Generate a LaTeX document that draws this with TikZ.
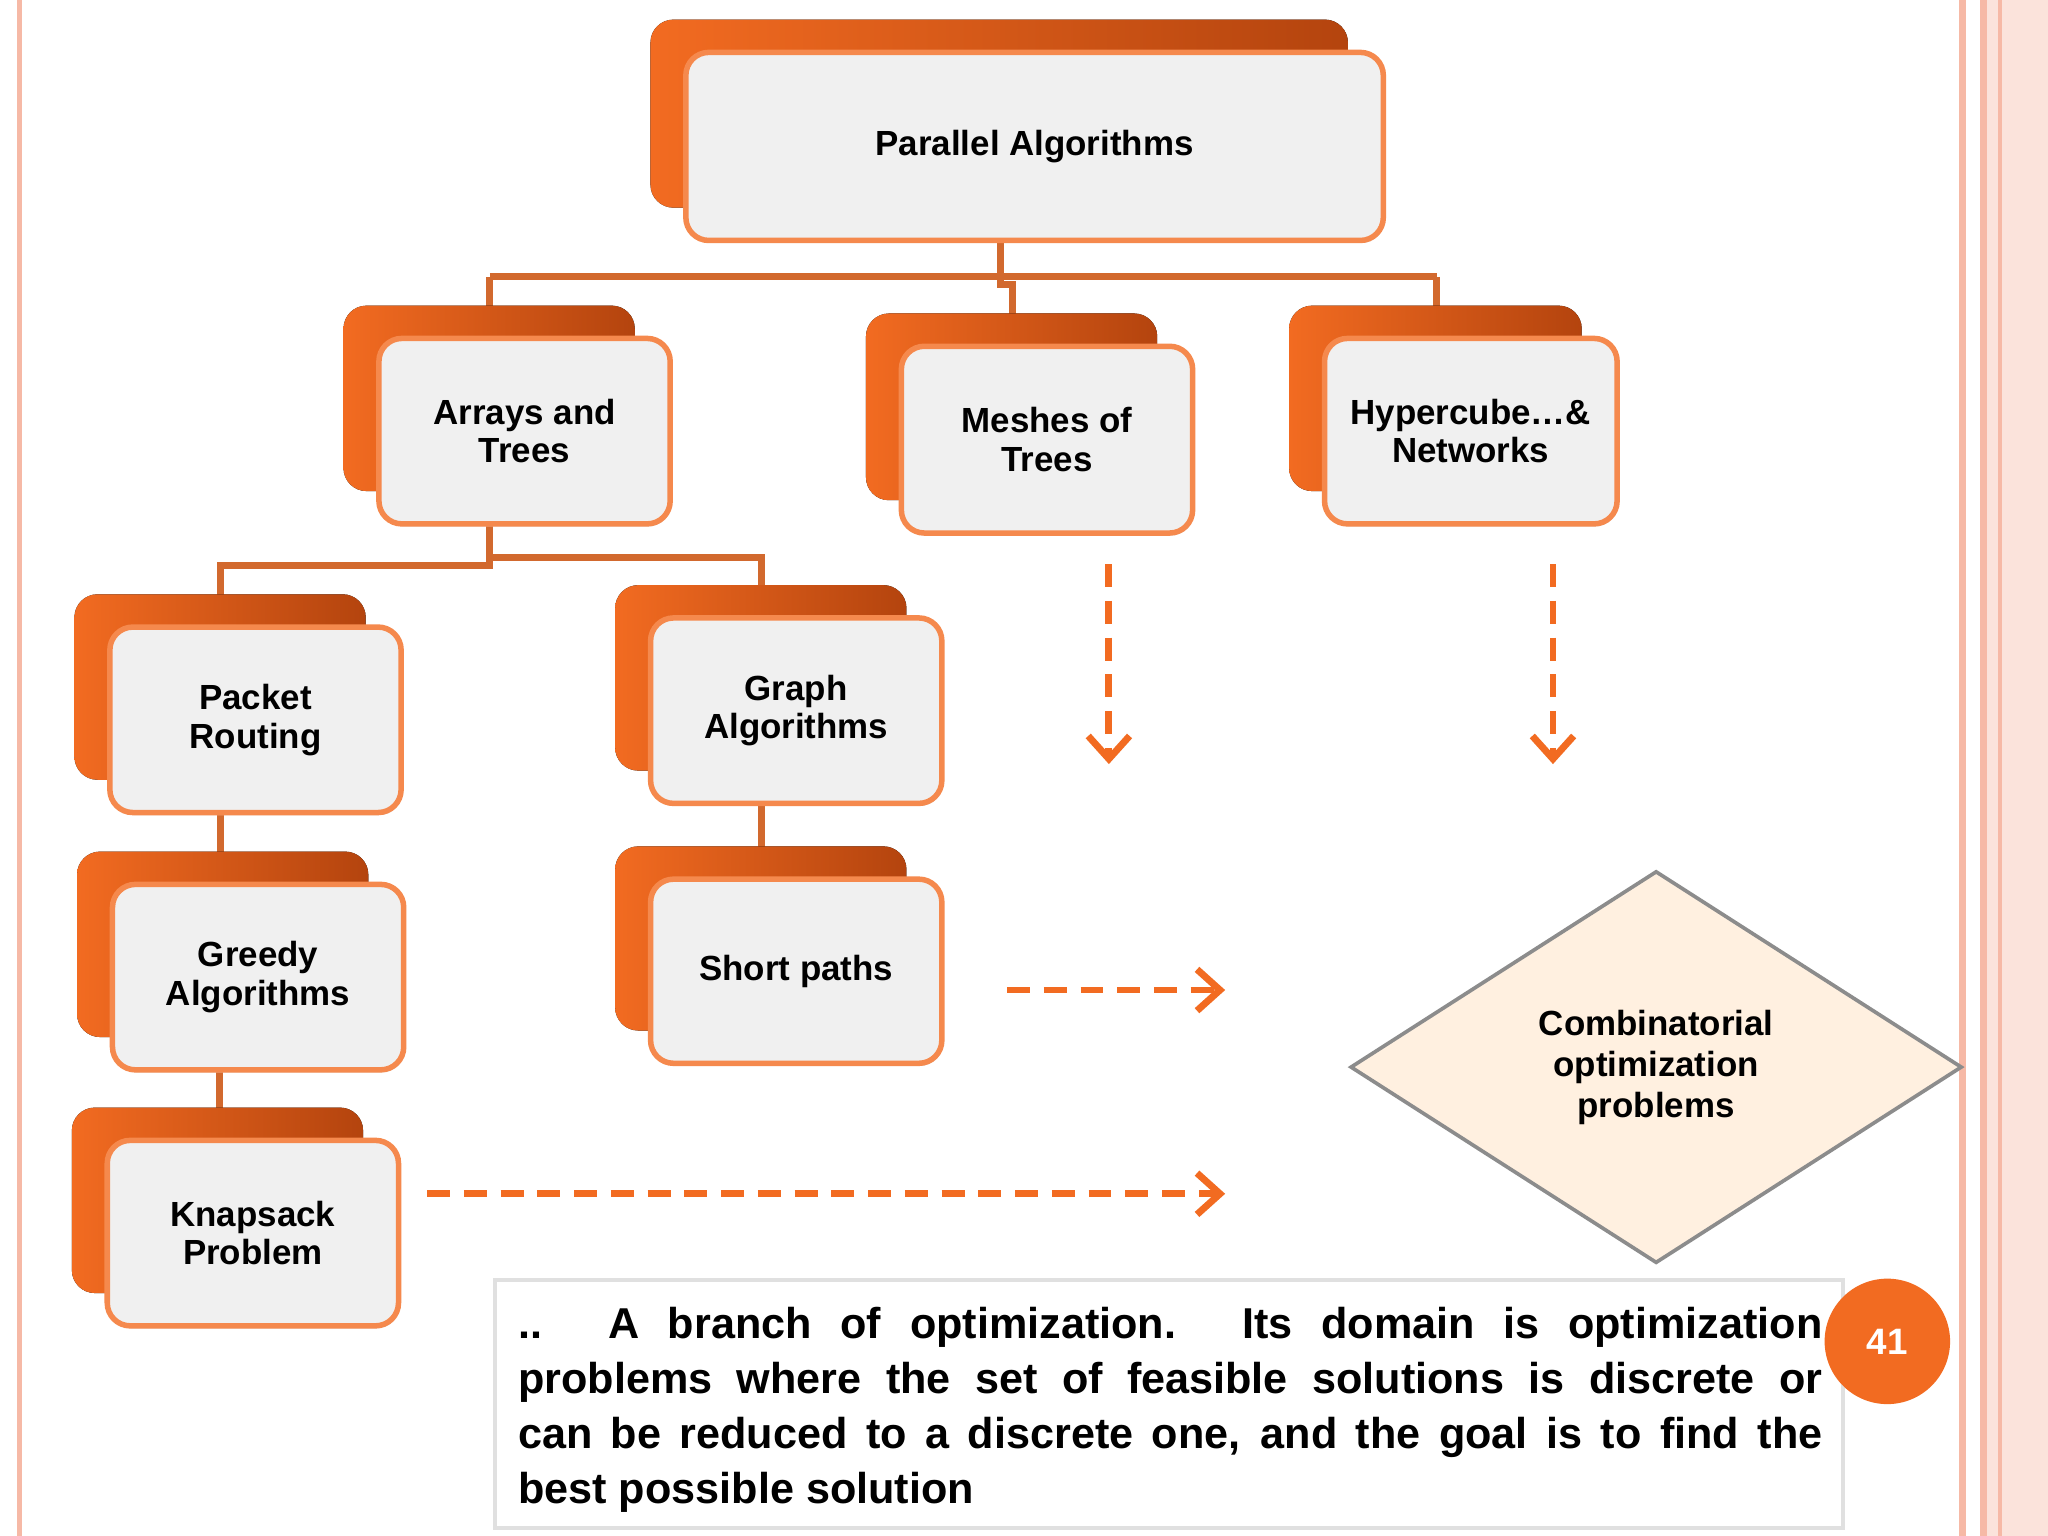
\documentclass[tikz,border=0pt]{standalone}
\usepackage{fontspec}
\setmainfont{Liberation Sans}
\usetikzlibrary{shapes.geometric,arrows.meta}
\definecolor{org}{HTML}{F26B21}
\definecolor{dorg}{HTML}{B4440E}
\definecolor{lnk}{HTML}{D2692E}
\definecolor{pnk}{HTML}{F6B9A6}
\tikzset{
 front/.style={draw=org!80!white,line width=1.2pt,rounded corners=5pt,fill=black!6,font=\fontsize{7.6}{8.4}\selectfont\bfseries,align=center,inner sep=0pt},
 back/.style={rounded corners=5pt,left color=org,right color=dorg,draw=none},
 con/.style={draw=lnk,line width=1.5pt},
 darr/.style={draw=org,line width=1.5pt,dash pattern=on 5pt off 3pt,-{Straight Barb[length=5pt,width=9pt]}}
}
\newcommand{\obox}[6]{%
 \fill[back] (#2-25,#3-23) rectangle (#4-25,#5-23);
 \fill[black!15,rounded corners=5pt] (#2+3,#3+4) rectangle (#4+3,#5+4);
 \node[front,minimum width={(#4-#2)*0.01cm},minimum height={(#5-#3)*0.01cm},anchor=north west] (#1) at (#2,#3) {#6};}
\newcommand{\jline}[1]{\makebox[9.98cm][s]{#1}}
\begin{document}
\begin{tikzpicture}[x=0.01cm,y=-0.01cm]
\fill[white] (0,0) rectangle (1568,1176);
\useasboundingbox (0,0) rectangle (1568,1176);
\fill[pnk] (13,0) rectangle (17,1176);
\fill[pnk] (1500,0) rectangle (1505,1176);
\fill[pnk!40] (1516,0) rectangle (1568,1176);
\fill[pnk] (1516,0) rectangle (1521,1176);
\fill[pnk] (1530,0) rectangle (1533,1176);
% connectors
\draw[con] (766,182) -- (766,212) (375,212) -- (1100,212) (375,212) -- (375,257) (1100,212) -- (1100,257) (766,212) -- (766,218) -- (775,218) -- (775,263);
\draw[con] (375,399) -- (375,427) -- (583,427) -- (583,471) (375,427) -- (375,433) -- (169,433) -- (169,478);
\draw[con] (169,620) -- (169,675) (168,817) -- (168,871) (583,613) -- (583,671);
\obox{pa}{523}{38}{1057}{182}{Parallel Algorithms}
\obox{at}{288}{257}{511}{399}{Arrays and\\Trees}
\obox{mt}{688}{263}{911}{406}{Meshes of\\Trees}
\obox{hn}{1012}{257}{1236}{399}{Hypercube…\&\\Networks}
\obox{pr}{82}{478}{305}{620}{Packet\\Routing}
\obox{ga}{84}{675}{307}{817}{Greedy\\Algorithms}
\obox{kp}{80}{871}{303}{1013}{Knapsack\\Problem}
\obox{gr}{496}{471}{719}{613}{Graph\\Algorithms}
\obox{sp}{496}{671}{719}{812}{Short paths}
\coordinate (d1s) at (849,432); \coordinate (d1e) at (849,585);
\coordinate (d2s) at (1189,432); \coordinate (d2e) at (1189,585);
\coordinate (d3s) at (771,758); \coordinate (d3e) at (938,758);
\coordinate (d4s) at (327,914); \coordinate (d4e) at (938,914);
\draw[darr] (d1s) -- (d1e);
\draw[darr] (d2s) -- (d2e);
\draw[darr] (d3s) -- (d3e);
\draw[darr] (d4s) -- (d4e);
\node[diamond,draw=black!45,line width=0.8pt,fill=orange!12!white,minimum width=4.68cm,minimum height=3.0cm,inner sep=0pt,font=\fontsize{7.6}{8.9}\selectfont\bfseries,align=center,aspect=1.56] (co) at (1268,817) {Combinatorial\\optimization\\problems};
\draw[black!12,line width=0.8pt] (379,980) rectangle (1411,1170);
\node[anchor=north west,align=left,inner sep=0pt,font=\fontsize{9.4}{12}\selectfont\bfseries] (tx) at (396,1000) {\jline{.. A branch of optimization. Its domain is optimization}\\ \jline{problems where the set of feasible solutions is discrete or}\\ \jline{can be reduced to a discrete one, and the goal is to find the}\\ best possible solution};
\node[circle,fill=org,minimum size=0.96cm,text=white,font=\fontsize{8}{9}\selectfont\bfseries] (pg) at (1445,1027) {41};
\end{tikzpicture}
\end{document}
